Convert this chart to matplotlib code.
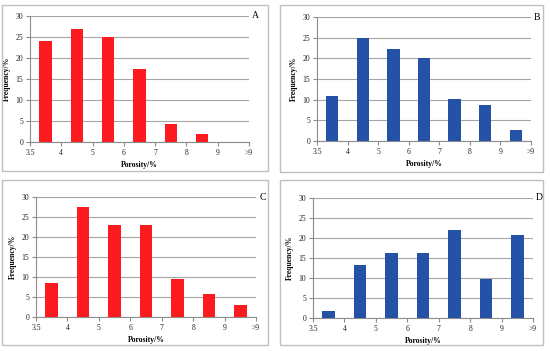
import matplotlib.pyplot as plt
from matplotlib.patches import Rectangle

# porosity bins (boundary labels) and frequency per bin
edges = ["3.5", "4", "5", "6", "7", "8", "9", ">9"]
freq_a = [24.0, 27.0, 25.0, 17.4, 4.4, 2.0, 0.0]
freq_b = [11.0, 25.0, 22.3, 20.0, 10.2, 8.8, 2.6]
freq_c = [8.6, 27.6, 22.9, 22.9, 9.5, 5.7, 2.9]
freq_d = [1.7, 13.3, 16.2, 16.2, 22.0, 9.8, 20.8]

RED = "#fe1b1f"
BLUE = "#2352a6"
W, H = 550, 351

plt.rcParams["font.family"] = "Liberation Serif"

fig = plt.figure(figsize=(W / 100, H / 100), dpi=100)


def px_axes(l, t, r, b):
    return fig.add_axes([l / W, 1 - b / H, (r - l) / W, (b - t) / H])


def box(l, t, r, b):
    fig.patches.append(Rectangle((l / W, 1 - b / H), (r - l) / W, (b - t) / H,
                                 transform=fig.transFigure, fill=False,
                                 edgecolor="#c0c0c0", linewidth=1.0))


panels = [
    (freq_a, RED, "A", (30, 16, 249, 142), (2, 5, 268, 171)),
    (freq_b, BLUE, "B", (317, 17, 531, 141), (280, 5, 543, 172)),
    (freq_c, RED, "C", (36, 197, 256, 317), (2, 180, 268, 345)),
    (freq_d, BLUE, "D", (313, 198, 533, 318), (280, 180, 543, 345)),
]

for vals, col, letter, ax_px, box_px in panels:
    box(*box_px)
    ax = px_axes(*ax_px)
    n = len(vals)
    xs = [i + 0.5 for i in range(n)]
    ax.bar(xs, vals, width=0.4, color=col, zorder=3)
    ax.set_xlim(0, n)
    ax.set_ylim(0, 30)
    ax.set_yticks(range(0, 31, 5))
    ax.set_xticks(range(n + 1))
    ax.set_xticklabels(edges)
    ax.yaxis.grid(True, color="#a6a6a6", linewidth=0.8, zorder=0)
    for s in ["top", "right"]:
        ax.spines[s].set_visible(False)
    for s in ["left", "bottom"]:
        ax.spines[s].set_color("#8c8c8c")
        ax.spines[s].set_linewidth(0.8)
    ax.tick_params(axis="both", labelsize=5.5, color="#8c8c8c", length=3,
                   width=0.8, pad=2, labelcolor="#222222")
    ax.set_ylabel("Frequency/%", fontsize=5.5, fontweight="bold", labelpad=3)
    ax.set_xlabel("Porosity/%", fontsize=5.5, fontweight="bold", labelpad=3)
    ax.text(1.03, 1.0, letter, transform=ax.transAxes, fontsize=7,
            ha="center", va="center")

fig.savefig("out.png", dpi=100)
